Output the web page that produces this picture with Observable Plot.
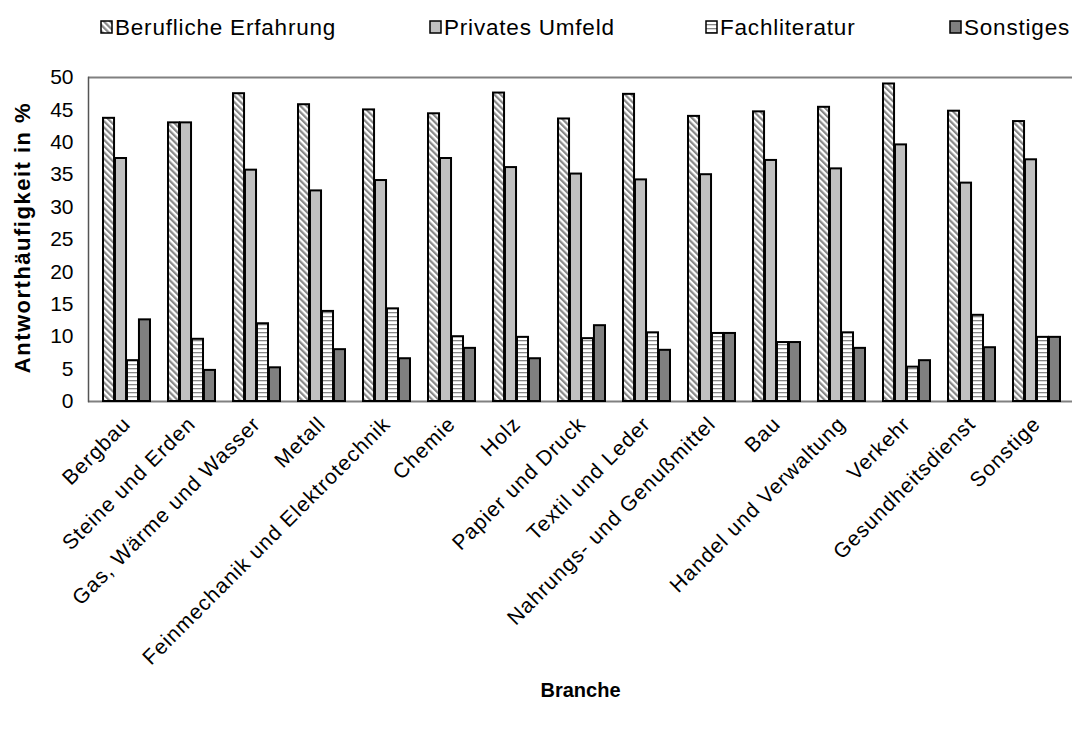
<!DOCTYPE html>
<html><head><meta charset="utf-8">
<script src="https://cdn.jsdelivr.net/npm/d3@7"></script>
<script src="https://cdn.jsdelivr.net/npm/@observablehq/plot@0.6"></script>
<style>
body{margin:0;background:#fff;}
#chart{position:relative;width:1072px;height:729px;font-family:"Liberation Sans",Arial,sans-serif;}
#chart svg{position:absolute;left:0;top:0;}
g[aria-label="x-axis tick label"] text{letter-spacing:1px;}
</style></head><body>
<svg width="0" height="0" style="position:absolute">
<defs>
<pattern id="diag" width="4.4" height="4.4" patternUnits="userSpaceOnUse" patternTransform="rotate(-45)">
<rect width="4.4" height="4.4" fill="#fff"/><rect width="2.2" height="4.4" fill="#888"/>
</pattern>
<pattern id="horiz" width="4" height="4" patternUnits="userSpaceOnUse">
<rect width="4" height="4" fill="#fff"/><rect width="4" height="1.3" fill="#888"/>
</pattern>
</defs></svg>
<div id="chart"></div>
<script>
const categories = ["Bergbau","Steine und Erden","Gas, Wärme und Wasser","Metall","Feinmechanik und Elektrotechnik","Chemie","Holz","Papier und Druck","Textil und Leder","Nahrungs- und Genußmittel","Bau","Handel und Verwaltung","Verkehr","Gesundheitsdienst","Sonstige"];
const berufliche    = [43.7, 43.0, 47.5, 45.8, 45.0, 44.4, 47.6, 43.6, 47.4, 44.0, 44.7, 45.4, 49.0, 44.8, 43.2];
const privates      = [37.5, 43.0, 35.7, 32.5, 34.1, 37.5, 36.1, 35.1, 34.2, 35.0, 37.2, 35.9, 39.6, 33.7, 37.3];
const fachliteratur = [ 6.3,  9.6, 12.0, 13.9, 14.3, 10.0,  9.9,  9.7, 10.6, 10.5,  9.1, 10.6,  5.3, 13.3,  9.9];
const sonstiges     = [12.6,  4.8,  5.2,  8.0,  6.6,  8.2,  6.6, 11.7,  7.9, 10.5,  9.1,  8.2,  6.3,  8.3,  9.9];
const seriesNames = ["Berufliche Erfahrung","Privates Umfeld","Fachliteratur","Sonstiges"];
const seriesValues = [berufliche, privates, fachliteratur, sonstiges];
const seriesFills = ["url(#diag)","#c0c0c0","url(#horiz)","#808080"];
const yTicks = [0,5,10,15,20,25,30,35,40,45,50];
const yLabel = "Antworthäufigkeit in %";
const xLabel = "Branche";

// layout
const W = 1072, H = 729;
const xRange = [88, 1075], padIn = 0.27, padOut = 0.15;
const step = (xRange[1]-xRange[0]) / (categories.length - padIn + 2*padOut);
const q = step*(1-padIn)/seriesNames.length;
const legendX = [101, 430, 706, 950];
const font = '"Liberation Sans", Arial, sans-serif';

const rows = [];
seriesNames.forEach((s, k) => categories.forEach((c, i) => rows.push({cat: c, series: s, k, value: seriesValues[k][i]})));

const barMarks = seriesNames.map((s, k) => Plot.barY(rows.filter(d => d.k === k), {
  x: "cat", y: "value", fill: seriesFills[k], stroke: "#000", strokeWidth: 2,
  insetLeft: k*q, insetRight: (seriesNames.length-1-k)*q
}));

const plot = Plot.plot({
  width: W, height: H,
  marginLeft: 88, marginRight: 0, marginTop: 77, marginBottom: 328,
  style: {fontFamily: font, color: "#000", background: "transparent"},
  x: {domain: categories, range: xRange, paddingInner: padIn, paddingOuter: padOut, axis: null},
  y: {domain: [0, 50], axis: null},
  marks: [
    Plot.ruleY([0, 50], {stroke: "#808080", strokeWidth: 2}),
    Plot.frame({anchor: "left", stroke: "#555", strokeWidth: 1.5}),
    ...barMarks,
    Plot.axisY({ticks: yTicks, tickSize: 0, tickPadding: 15, fontSize: 21, label: null}),
    Plot.axisX({tickRotate: -45, tickSize: 0, tickPadding: 19, fontSize: 21, label: null}),
    Plot.text([yLabel], {text: d => d, frameAnchor: "left", textAnchor: "middle", rotate: -90, dx: -66, dy: -2, fontSize: 22, fontWeight: "bold"}),
    Plot.text([xLabel], {text: d => d, frameAnchor: "bottom", textAnchor: "middle", dy: 295, fontSize: 20, fontWeight: "bold"})
  ]
});
const chart = document.getElementById("chart");
chart.appendChild(plot);
d3.select(plot).selectAll("text").filter(function() { return this.textContent === yLabel; }).attr("letter-spacing", 1.5);

// legend
const leg = d3.select(chart).append("svg").attr("width", W).attr("height", 50);
seriesNames.forEach((s, k) => {
  leg.append("rect").attr("x", legendX[k]).attr("y", 21).attr("width", 11).attr("height", 12)
    .attr("fill", seriesFills[k]).attr("stroke", "#000").attr("stroke-width", 1.5);
  leg.append("text").attr("x", legendX[k] + 14).attr("y", 35).text(s)
    .attr("font-size", 22.5).attr("letter-spacing", 0.8).attr("fill", "#000")
    .attr("font-family", font);
});
</script>
</body></html>
